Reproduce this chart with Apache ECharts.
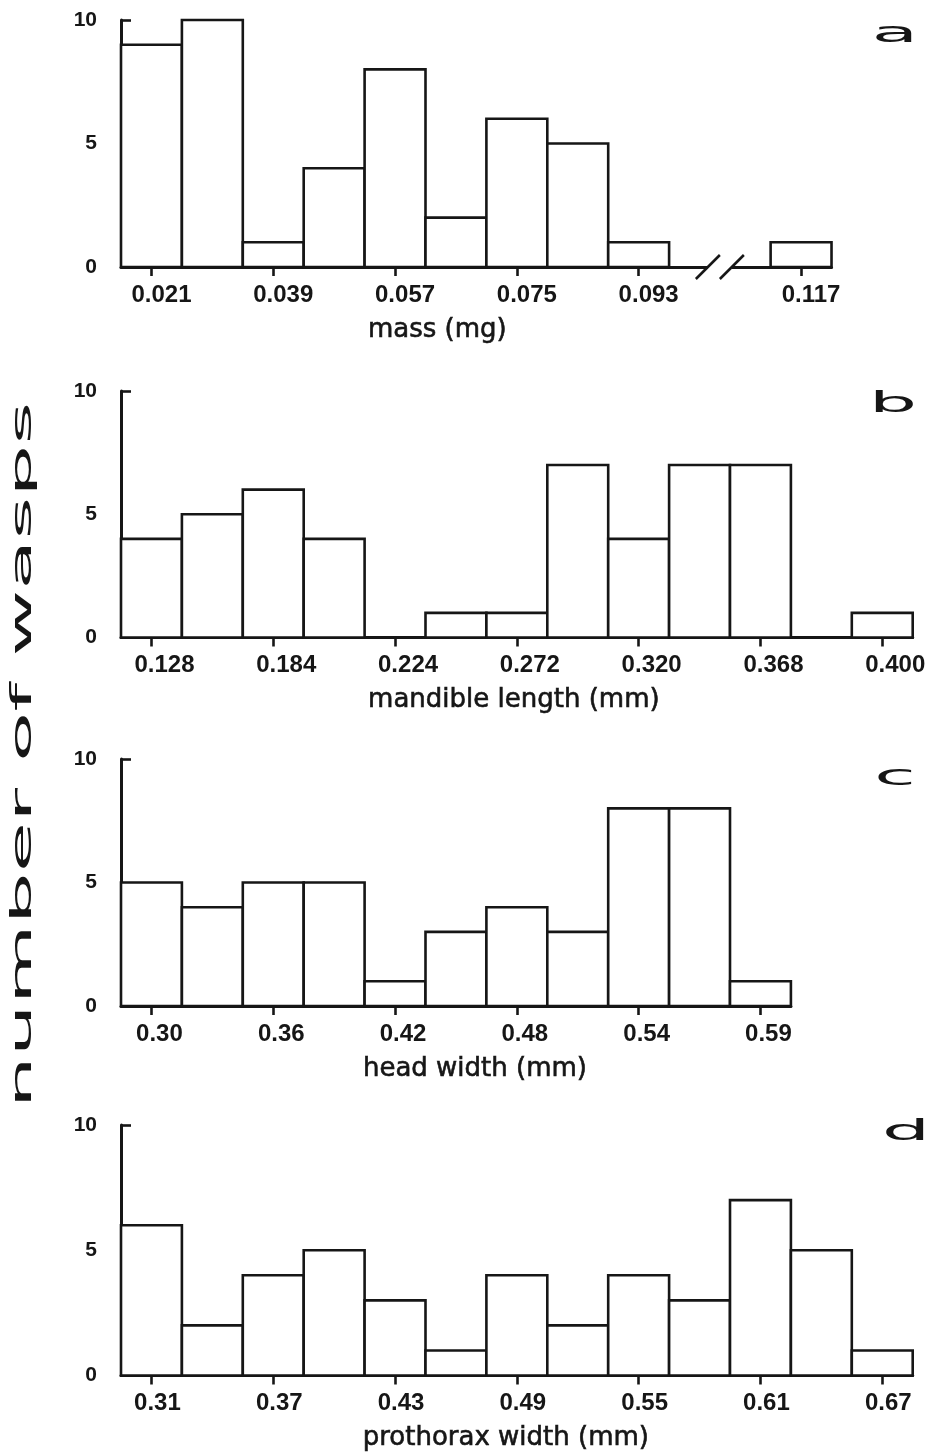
<!DOCTYPE html>
<html>
<head>
<meta charset="utf-8">
<title>number of wasps</title>
<script src="https://cdn.jsdelivr.net/npm/echarts@6.0.0/dist/echarts.min.js"></script>
<style>
  html, body { margin: 0; padding: 0; background: #ffffff; }
  #chart { width: 941px; height: 1455px; }
</style>
</head>
<body>
<div id="chart"></div>
<script>
// (a) body mass: bins 0.009 mg wide, centred on these values
const massCenters = [0.021, 0.030, 0.039, 0.048, 0.057, 0.066, 0.075, 0.084, 0.093, 0.117];
const massCounts  = [9, 10, 1, 4, 8, 2, 6, 5, 1, 1];
const massBinWidth = 0.009;
const massTicks = [0.021, 0.039, 0.057, 0.075, 0.093, 0.117];

// (b) mandible length: one count per bin, a label under every second bin
const mandibleCounts = [4, 5, 6, 4, 0, 1, 1, 7, 4, 7, 7, 0, 1];
const mandibleTicks = ['0.128', '0.184', '0.224', '0.272', '0.320', '0.368', '0.400'];

// (c) head width
const headCounts = [5, 4, 5, 5, 1, 3, 4, 3, 8, 8, 1];
const headTicks = ['0.30', '0.36', '0.42', '0.48', '0.54', '0.59'];

// (d) prothorax width
const prothoraxCounts = [6, 2, 4, 5, 3, 1, 4, 2, 4, 3, 7, 5, 1];
const prothoraxTicks = ['0.31', '0.37', '0.43', '0.49', '0.55', '0.61', '0.67'];

const yTicks = [0, 5, 10];

// ---- layout ----
const INK = '#161616';
const BIN_PX = 60.9;   // horizontal size of one bin
const LEFT = 121;

// x positions are expressed in "bin" units: bin i is centred on i
function uniformPanel(counts, ticks) {
  return {
    bins: counts.map((c, i) => ({ pos: i, count: c })),
    ticks: ticks.map((t, i) => ({ pos: 2 * i, text: t }))
  };
}
function massPanel() {
  const toPos = v => Math.round((v - massCenters[0]) / massBinWidth * 1000) / 1000;
  return {
    bins: massCenters.map((v, i) => ({ pos: toPos(v), count: massCounts[i] })),
    ticks: massTicks.map(v => ({ pos: toPos(v), text: v.toFixed(3) }))
  };
}

const panels = [
  Object.assign(massPanel(), { letter: 'a', name: 'mass (mg)',            top: 20,   height: 247, nameShift: -39, labelShift: 10, lx: 895, ly: 35 }),
  Object.assign(uniformPanel(mandibleCounts, mandibleTicks),
                { letter: 'b', name: 'mandible length (mm)', top: 391,  height: 246.5, nameShift: -3, labelShift: 13, lx: 893, ly: 405 }),
  Object.assign(uniformPanel(headCounts, headTicks),
                { letter: 'c', name: 'head width (mm)',      top: 759,  height: 247, nameShift: 19, labelShift: 8, lx: 895, ly: 778 }),
  Object.assign(uniformPanel(prothoraxCounts, prothoraxTicks),
                { letter: 'd', name: 'prothorax width (mm)', top: 1125, height: 250.5, nameShift: -11, labelShift: 6, lx: 906, ly: 1133 })
];

function shiftPad(d) {
  return d >= 0 ? [0, 0, 0, 2 * d] : [0, -2 * d, 0, 0];
}

const grids = [], xAxes = [], yAxes = [], series = [], graphics = [];

panels.forEach((p, k) => {
  const maxPos = Math.max.apply(null, p.bins.map(b => b.pos));
  const span = maxPos + 1;
  grids.push({ left: LEFT, top: p.top, width: span * BIN_PX, height: p.height });

  const tickPos = p.ticks.map(t => t.pos);
  xAxes.push({
    type: 'value', gridIndex: k, min: -0.5, max: maxPos + 0.5,
    splitLine: { show: false },
    axisLine: { show: true, onZero: false, lineStyle: { color: INK, width: 3 } },
    axisTick: { show: true, customValues: tickPos, length: 9, lineStyle: { color: INK, width: 2.6 } },
    axisLabel: {
      customValues: tickPos,
      formatter: v => {
        const t = p.ticks.find(q => Math.abs(q.pos - v) < 1e-6);
        return t ? t.text : '';
      },
      color: INK, fontFamily: 'Liberation Sans', fontWeight: 'bold', fontSize: 24,
      margin: 16, padding: shiftPad(p.labelShift)
    },
    name: p.name, nameLocation: 'middle', nameGap: 50,
    nameTextStyle: {
      color: INK, fontFamily: 'DejaVu Sans', fontSize: 26,
      textBorderColor: INK, textBorderWidth: 0.6,
      padding: shiftPad(p.nameShift)
    }
  });

  yAxes.push({
    type: 'value', gridIndex: k, min: 0, max: 10, interval: 5,
    splitLine: { show: false },
    axisLine: { show: true, onZero: false, lineStyle: { color: INK, width: 3 } },
    axisTick: { show: true, inside: true, length: 10, customValues: [yTicks[yTicks.length - 1]],
                lineStyle: { color: INK, width: 2.6 } },
    axisLabel: {
      customValues: yTicks,
      color: INK, fontFamily: 'Liberation Sans', fontWeight: 'bold', fontSize: 21, margin: 24
    }
  });

  // histogram bars: white boxes with a black outline
  series.push({
    type: 'custom', xAxisIndex: k, yAxisIndex: k, z: 3,
    data: p.bins.map(b => [b.pos - 0.5, b.pos + 0.5, b.count]),
    encode: { x: [0, 1], y: 2 },
    renderItem: (params, api) => {
      const p0 = api.coord([api.value(0), 0]);
      const p1 = api.coord([api.value(1), api.value(2)]);
      return {
        type: 'rect',
        shape: { x: p0[0], y: p1[1], width: p1[0] - p0[0], height: p0[1] - p1[1] },
        style: { fill: '#ffffff', stroke: INK, lineWidth: 2.6 }
      };
    }
  });

  // axis break marks wherever consecutive bins are not adjacent
  const gaps = [];
  for (let i = 1; i < p.bins.length; i++) {
    if (p.bins[i].pos - p.bins[i - 1].pos > 1.001) {
      gaps.push([p.bins[i - 1].pos + 0.5, p.bins[i].pos - 0.5]);
    }
  }
  if (gaps.length) {
    series.push({
      type: 'custom', xAxisIndex: k, yAxisIndex: k, z: 4, clip: false,
      data: gaps,
      encode: { x: [0, 1] },
      renderItem: (params, api) => {
        const a = api.coord([api.value(0), 0]);
        const b = api.coord([api.value(1), 0]);
        const mx = (a[0] + b[0]) / 2, y0 = a[1];
        const half = 12, s = 12;
        const slash = cx => ({
          type: 'line',
          shape: { x1: cx - s, y1: y0 + s, x2: cx + s, y2: y0 - s },
          style: { stroke: INK, lineWidth: 2.6 }
        });
        return {
          type: 'group',
          children: [
            { type: 'rect', shape: { x: mx - half, y: y0 - 3, width: 2 * half, height: 6 },
              style: { fill: '#ffffff' } },
            slash(mx - half),
            slash(mx + half)
          ]
        };
      }
    });
  }

  // panel letter
  graphics.push({
    type: 'text', x: p.lx, y: p.ly, scaleX: 2.7,
    style: { text: p.letter, font: '28px "DejaVu Sans"', fill: INK, align: 'center', verticalAlign: 'middle' }
  });
});

// shared vertical title
graphics.push({
  type: 'text', x: 24, y: 755, rotation: Math.PI / 2, scaleX: 2.93,
  style: { text: 'number of wasps', font: '28px "DejaVu Sans"', fill: INK, align: 'center', verticalAlign: 'middle' }
});

const chart = echarts.init(document.getElementById('chart'), null, { renderer: 'canvas' });
chart.setOption({
  backgroundColor: '#ffffff',
  animation: false,
  grid: grids,
  xAxis: xAxes,
  yAxis: yAxes,
  series: series,
  graphic: graphics
});
</script>
</body>
</html>
